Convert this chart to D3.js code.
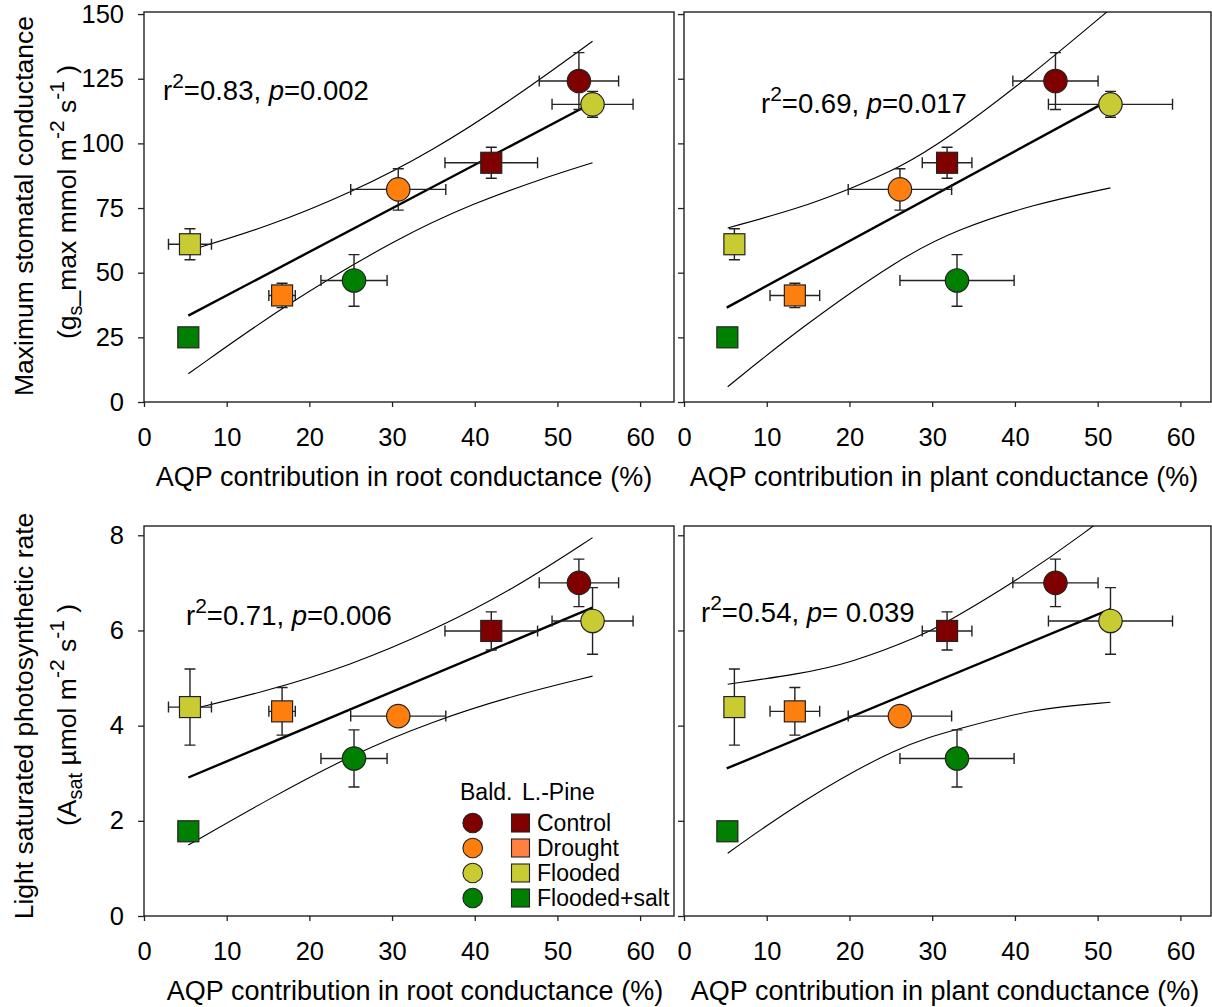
<!DOCTYPE html>
<html>
<head>
<meta charset="utf-8">
<script src="https://cdn.jsdelivr.net/npm/d3@7"></script>
<style>
    body { margin: 0; background: #fff; }
    svg { display: block; font-family: "Liberation Sans", Arial, sans-serif; }
</style>
</head>
<body>
<svg id="vis" width="1212" height="1007"></svg>
<script>
// treatments, in legend order
const TREATMENTS = ["Control", "Drought", "Flooded", "Flooded+salt"];
const COLORS = ["#800000", "#ff7f0e", "#c8cc32", "#008000"];
const LEGEND_SQUARE_COLORS = ["#800000", "#ff8040", "#c8cc32", "#008000"];

// AQP contribution in root conductance (%), Bald cypress (circles) and L.-Pine (squares)
const ROOT_BALD = [52.6, 30.75, 54.25, 25.4];
const ROOT_BALD_ERR = [4.8, 5.75, 4.9, 4.0];
const ROOT_PINE = [42.0, 16.7, 5.56, 5.36];
const ROOT_PINE_ERR = [5.6, 1.6, 2.6, 0];

// AQP contribution in plant conductance (%)
const PLANT_BALD = [44.9, 26.1, 51.55, 33.0];
const PLANT_BALD_ERR = [5.15, 6.25, 7.5, 6.9];
const PLANT_PINE = [31.8, 13.4, 6.09, 5.24];
const PLANT_PINE_ERR = [3.0, 3.0, 0, 0];

// maximum stomatal conductance
const GS_BALD = [124.1, 82.2, 115.1, 47.0];
const GS_BALD_ERR = [11, 8, 5, 10];
const GS_PINE = [92.5, 41.2, 61.0, 25.0];
const GS_PINE_ERR = [6, 4.7, 6, 0];

// light saturated photosynthetic rate
const ASAT_BALD = [7.0, 4.2, 6.2, 3.31];
const ASAT_BALD_ERR = [0.5, 0.2, 0.7, 0.6];
const ASAT_PINE = [5.99, 4.3, 4.39, 1.78];
const ASAT_PINE_ERR = [0.4, 0.5, 0.8, 0];

// regression lines and 95% bands as [x, y]
const FIT_ROOT_GS = [[5.36, 33.4], [54.25, 115.7]];
const UPPER_ROOT_GS = [[5.36, 58.5], [15, 67.8], [25, 80.8], [35, 97.2], [45, 118], [54.25, 139.5]];
const LOWER_ROOT_GS = [[5.36, 10.9], [17, 37.5], [31, 64], [40, 77], [47.8, 86], [54.25, 92.5]];

const FIT_PLANT_GS = [[5.16, 36.5], [51.55, 117]];
const UPPER_PLANT_GS = [[5.28, 67.3], [14, 75], [19.9, 82.2], [26.1, 90.6], [31.8, 101.7], [41.4, 124.8], [51.55, 152]];
const LOWER_PLANT_GS = [[5.28, 5.9], [14, 28.5], [26.1, 55.7], [33, 66.7], [42.2, 76.4], [51.55, 82.8]];

const FIT_ROOT_ASAT = [[5.36, 2.91], [54.25, 6.48]];
const UPPER_ROOT_ASAT = [[5.36, 4.33], [15, 4.73], [25, 5.27], [35, 6.0], [45, 6.9], [54.25, 7.95]];
const LOWER_ROOT_ASAT = [[5.36, 1.49], [15, 2.45], [25, 3.38], [35, 4.1], [45, 4.65], [54.25, 5.04]];

const FIT_PLANT_ASAT = [[5.16, 3.1], [51.55, 6.45]];
const UPPER_PLANT_ASAT = [[5.28, 4.87], [14, 5.09], [19.9, 5.3], [28.9, 5.9], [31.8, 6.18], [39.7, 6.98], [49.6, 8.19], [51.55, 8.5]];
const LOWER_PLANT_ASAT = [[5.28, 1.32], [14, 2.4], [26.1, 3.59], [33, 3.92], [42.2, 4.36], [51.55, 4.49]];

// tick values
const X_TICKS = [0, 10, 20, 30, 40, 50, 60];
const GS_TICKS = [0, 25, 50, 75, 100, 125, 150];
const ASAT_TICKS = [0, 2, 4, 6, 8];

// statistics printed in each panel
const R2_TEXT = ["0.83", "0.69", "0.71", "0.54"];
const P_TEXT = ["0.002", "0.017", "0.006", " 0.039"];

const X_TITLES = ["AQP contribution in root conductance (%)", "AQP contribution in plant conductance (%)"];

/**
 * layout of the four panels (pixel boxes and axis maxima)
 */
const PANELS = [
    {left: 144, right: 674, top: 12, bottom: 402, xMax: 64.1, yMax: 150.8, yTicks: GS_TICKS, yLabels: true,
     xb: ROOT_BALD, xbe: ROOT_BALD_ERR, xp: ROOT_PINE, xpe: ROOT_PINE_ERR,
     yb: GS_BALD, ybe: GS_BALD_ERR, yp: GS_PINE, ype: GS_PINE_ERR,
     fit: FIT_ROOT_GS, upper: UPPER_ROOT_GS, lower: LOWER_ROOT_GS,
     stat: 0, statX: 163, statY: 100, title: 0, titleX: 404},
    {left: 684, right: 1211, top: 12, bottom: 402, xMax: 63.7, yMax: 150.8, yTicks: GS_TICKS, yLabels: false,
     xb: PLANT_BALD, xbe: PLANT_BALD_ERR, xp: PLANT_PINE, xpe: PLANT_PINE_ERR,
     yb: GS_BALD, ybe: GS_BALD_ERR, yp: GS_PINE, ype: GS_PINE_ERR,
     fit: FIT_PLANT_GS, upper: UPPER_PLANT_GS, lower: LOWER_PLANT_GS,
     stat: 1, statX: 761, statY: 113, title: 1, titleX: 944},
    {left: 144, right: 674, top: 526, bottom: 916, xMax: 64.1, yMax: 8.195, yTicks: ASAT_TICKS, yLabels: true,
     xb: ROOT_BALD, xbe: ROOT_BALD_ERR, xp: ROOT_PINE, xpe: ROOT_PINE_ERR,
     yb: ASAT_BALD, ybe: ASAT_BALD_ERR, yp: ASAT_PINE, ype: ASAT_PINE_ERR,
     fit: FIT_ROOT_ASAT, upper: UPPER_ROOT_ASAT, lower: LOWER_ROOT_ASAT,
     stat: 2, statX: 186, statY: 625, title: 0, titleX: 415},
    {left: 684, right: 1211, top: 526, bottom: 916, xMax: 63.7, yMax: 8.195, yTicks: ASAT_TICKS, yLabels: false,
     xb: PLANT_BALD, xbe: PLANT_BALD_ERR, xp: PLANT_PINE, xpe: PLANT_PINE_ERR,
     yb: ASAT_BALD, ybe: ASAT_BALD_ERR, yp: ASAT_PINE, ype: ASAT_PINE_ERR,
     fit: FIT_PLANT_ASAT, upper: UPPER_PLANT_ASAT, lower: LOWER_PLANT_ASAT,
     stat: 3, statX: 701, statY: 622, title: 1, titleX: 945}
];

const TICK_FONT = 25.5;
const TITLE_FONT = 26.5;
const CAP = 5.5;        // half width of error bar caps
const R = 11.7;         // circle radius
const SQ = 21;          // square side

const svg = d3.select("#vis");

PANELS.forEach(function(p, i){ drawPanel(p, i); });
drawYTitles();
drawLegend();

/**
 * Draw one scatter panel with axes, regression and points
 */
function drawPanel(p, idx){
    const xScale = d3.scaleLinear().domain([0, p.xMax]).range([p.left, p.right]);
    const yScale = d3.scaleLinear().domain([0, p.yMax]).range([p.bottom, p.top]);

    // axes
    const xAxis = d3.axisBottom(xScale).tickValues(X_TICKS).tickSize(5).tickPadding(20.5);
    const yAxis = d3.axisLeft(yScale).tickValues(p.yTicks).tickSize(6).tickPadding(14);
    if (!p.yLabels) yAxis.tickFormat("");

    const gx = svg.append("g").attr("transform", `translate(0, ${p.bottom})`).call(xAxis);
    const gy = svg.append("g").attr("transform", `translate(${p.left}, 0)`).call(yAxis);
    [gx, gy].forEach(function(g){
        g.select(".domain").remove();
        g.selectAll(".tick line").attr("stroke", "#222").attr("stroke-width", 1.3);
        g.selectAll(".tick text").attr("fill", "#000").style("font-size", TICK_FONT + "px")
            .style("font-family", "'Liberation Sans', Arial, sans-serif");
    });

    // frame
    svg.append("rect")
        .attr("x", p.left).attr("y", p.top)
        .attr("width", p.right - p.left).attr("height", p.bottom - p.top)
        .attr("fill", "none").attr("stroke", "#222").attr("stroke-width", 1.4);

    // x title
    svg.append("text")
        .attr("x", p.titleX)
        .attr("y", p.bottom + 83.5)
        .attr("text-anchor", "middle")
        .style("font-size", "27px")
        .text(X_TITLES[p.title]);

    // clip for curves
    const clipId = "clip" + idx;
    svg.append("clipPath").attr("id", clipId).append("rect")
        .attr("x", p.left).attr("y", p.top)
        .attr("width", p.right - p.left).attr("height", p.bottom - p.top);

    const line = d3.line()
        .x(function(d){ return xScale(d[0]); })
        .y(function(d){ return yScale(d[1]); })
        .curve(d3.curveBasis);

    const curves = svg.append("g").attr("clip-path", `url(#${clipId})`);
    [p.upper, p.lower].forEach(function(band){
        curves.append("path").attr("d", line(band))
            .attr("fill", "none").attr("stroke", "#000").attr("stroke-width", 1.1);
    });
    curves.append("path").attr("d", line(p.fit))
        .attr("fill", "none").attr("stroke", "#000").attr("stroke-width", 2.4);

    // stats text
    const st = svg.append("text")
        .attr("x", p.statX).attr("y", p.statY)
        .style("font-size", "27.5px");
    st.append("tspan").text("r");
    st.append("tspan").attr("dy", -12).style("font-size", "21px").text("2");
    st.append("tspan").attr("dy", 12).text("=" + R2_TEXT[p.stat] + ", ");
    st.append("tspan").style("font-style", "italic").text("p");
    st.append("tspan").text("=" + P_TEXT[p.stat]);

    // data points: squares (L.-Pine) and circles (Bald cypress)
    const points = [];
    TREATMENTS.forEach(function(t, k){
        points.push({shape: "square", c: k, x: p.xp[k], xe: p.xpe[k], y: p.yp[k], ye: p.ype[k]});
    });
    TREATMENTS.forEach(function(t, k){
        points.push({shape: "circle", c: k, x: p.xb[k], xe: p.xbe[k], y: p.yb[k], ye: p.ybe[k]});
    });

    // error bars
    const eb = svg.append("g").attr("stroke", "#222").attr("stroke-width", 1.4).attr("fill", "none");
    points.forEach(function(d){
        const cx = xScale(d.x), cy = yScale(d.y);
        if (d.xe > 0){
            const x0 = xScale(d.x - d.xe), x1 = xScale(d.x + d.xe);
            eb.append("path").attr("d",
                `M${x0},${cy}H${x1}M${x0},${cy - CAP}V${cy + CAP}M${x1},${cy - CAP}V${cy + CAP}`);
        }
        if (d.ye > 0){
            const y0 = yScale(d.y - d.ye), y1 = yScale(d.y + d.ye);
            eb.append("path").attr("d",
                `M${cx},${y0}V${y1}M${cx - CAP},${y0}H${cx + CAP}M${cx - CAP},${y1}H${cx + CAP}`);
        }
    });

    // markers
    const mk = svg.append("g");
    mk.selectAll("rect.pt")
        .data(points.filter(function(d){ return d.shape === "square"; }))
        .enter().append("rect")
        .attr("class", "pt")
        .attr("x", function(d){ return xScale(d.x) - SQ / 2; })
        .attr("y", function(d){ return yScale(d.y) - SQ / 2; })
        .attr("width", SQ).attr("height", SQ)
        .attr("fill", function(d){ return COLORS[d.c]; })
        .attr("stroke", "#222").attr("stroke-width", 1.2);
    mk.selectAll("circle.pt")
        .data(points.filter(function(d){ return d.shape === "circle"; }))
        .enter().append("circle")
        .attr("class", "pt")
        .attr("cx", function(d){ return xScale(d.x); })
        .attr("cy", function(d){ return yScale(d.y); })
        .attr("r", R)
        .attr("fill", function(d){ return COLORS[d.c]; })
        .attr("stroke", "#222").attr("stroke-width", 1.2);
}

/**
 * Rotated y-axis titles with sub/superscripts
 */
function drawYTitles(){
    function rotated(x, y){
        return svg.append("text")
            .attr("transform", `translate(${x}, ${y}) rotate(-90)`)
            .attr("text-anchor", "middle")
            .style("font-size", TITLE_FONT + "px");
    }
    rotated(33, 206).text("Maximum stomatal conductance");

    const t2 = rotated(76, 202);
    t2.append("tspan").text("(g");
    t2.append("tspan").attr("dy", 6).style("font-size", "20px").text("s");
    t2.append("tspan").attr("dy", -6).text("_max mmol m");
    t2.append("tspan").attr("dy", -12).style("font-size", "21px").text("-2");
    t2.append("tspan").attr("dy", 12).text(" s");
    t2.append("tspan").attr("dy", -12).style("font-size", "21px").text("-1");
    t2.append("tspan").attr("dy", 12).text(" )");

    rotated(33, 716).text("Light saturated photosynthetic rate");

    const t4 = rotated(76, 715);
    t4.append("tspan").text("(A");
    t4.append("tspan").attr("dy", 6).style("font-size", "20px").text("sat");
    t4.append("tspan").attr("dy", -6).text(" \u00b5mol m");
    t4.append("tspan").attr("dy", -12).style("font-size", "21px").text("-2");
    t4.append("tspan").attr("dy", 12).text(" s");
    t4.append("tspan").attr("dy", -12).style("font-size", "21px").text("-1");
    t4.append("tspan").attr("dy", 12).text(" )");
}

/**
 * Legend inside the lower-left panel
 */
function drawLegend(){
    const lg = svg.append("g").style("font-size", "23px");
    lg.append("text").attr("x", 460).attr("y", 800).text("Bald.");
    lg.append("text").attr("x", 522).attr("y", 800).text("L.-Pine");

    TREATMENTS.forEach(function(t, k){
        const cy = 823 + k * 25;
        lg.append("circle")
            .attr("cx", 472.7).attr("cy", cy).attr("r", 9.8)
            .attr("fill", COLORS[k]).attr("stroke", "#222").attr("stroke-width", 1.1);
        lg.append("rect")
            .attr("x", 511.5).attr("y", cy - 9).attr("width", 18).attr("height", 18)
            .attr("fill", LEGEND_SQUARE_COLORS[k]).attr("stroke", "#222").attr("stroke-width", 1.1);
        lg.append("text").attr("x", 537).attr("y", cy + 8).text(t);
    });
}
</script>
</body>
</html>
